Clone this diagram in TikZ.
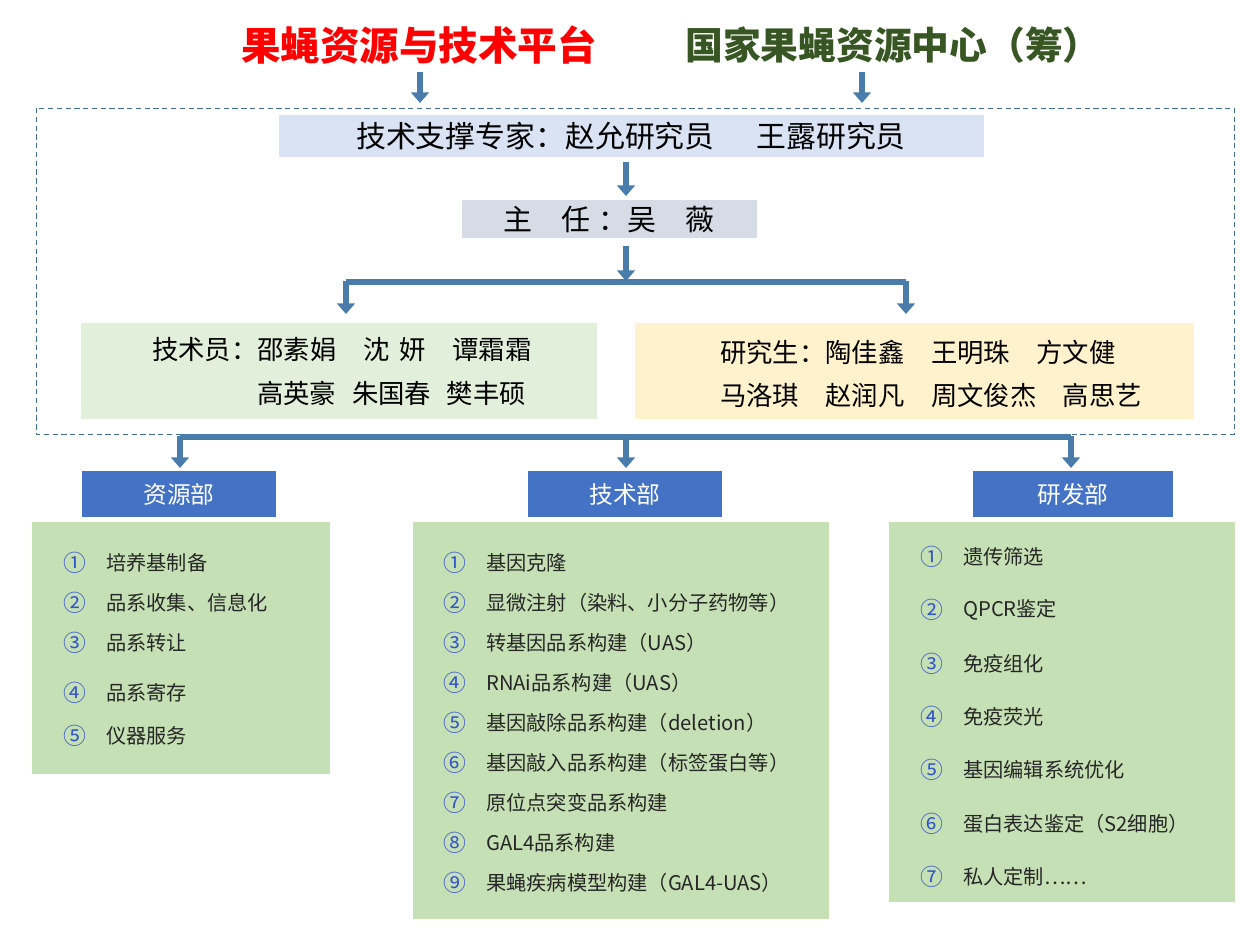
\documentclass[tikz,border=0pt]{standalone}
\usepackage{fontspec}
\setmainfont{Noto Sans CJK SC}
\usetikzlibrary{arrows.meta}
\definecolor{arr}{HTML}{5B9BD5}
\definecolor{hdr}{HTML}{4472C4}
\definecolor{lst}{HTML}{C5E0B4}
\definecolor{num}{HTML}{3355CC}
\definecolor{ttgreen}{HTML}{375623}
\definecolor{expf}{HTML}{DAE3F3}
\definecolor{dirf}{HTML}{D6DCE5}
\definecolor{stf}{HTML}{E2EFDA}
\definecolor{stuf}{HTML}{FFF2CC}
\begin{document}
\begin{tikzpicture}[x=0.02cm,y=-0.02cm,
  ar/.style={draw=arr!80!black,line width=3pt,-{Triangle[length=6pt,width=10pt]}},
  bus/.style={draw=arr!80!black,line width=3pt},
  it/.style={anchor=west,font=\fontsize{11.5}{12}\selectfont,text=black!85},
  nm/.style={anchor=center,font=\fontsize{13}{13}\selectfont,text=num},
  hd/.style={fill=hdr,text=white,font=\fontsize{13.5}{14}\selectfont,inner sep=0,align=center,minimum height=0.92cm}]
\useasboundingbox (0,0) rectangle (1260,945);
\node[font=\fontsize{22.5}{24}\selectfont\bfseries,text=red] (t1) at (419,45) {果蝇资源与技术平台};
\node[font=\fontsize{21.5}{24}\selectfont\bfseries,text=ttgreen] (t2) at (893,45) {国家果蝇资源中心（筹）};
\draw[densely dashed,draw=arr!70!black,thin] (36,108) rectangle (1234,434);
\draw[ar] (420,72) -- (420,103);
\draw[ar] (862,72) -- (862,103);
\fill[expf] (279,115) rectangle (984,157);
\node[font=\fontsize{17}{18}\selectfont] (exp) at (631,136) {技术支撑专家：赵允研究员\hspace{1.4em}王露研究员};
\fill[dirf] (462,200) rectangle (757,238);
\node[font=\fontsize{16.5}{17}\selectfont] (dir) at (609,220) {主\hspace{1em}任\hspace{0.3em}：吴\hspace{1em}薇};
\draw[ar] (626,162) -- (626,196);
\draw[ar] (626,246) -- (626,281);
\draw[bus] (346,282) -- (906,282);
\draw[ar] (346,281) -- (346,314);
\draw[ar] (906,281) -- (906,314);
\fill[stf] (81,323) rectangle (597,419);
\fill[stuf] (635,323) rectangle (1194,419);
\node[anchor=west,font=\fontsize{15}{15}\selectfont] (g1) at (146,350) {技术员：邵素娟\hspace{1em}沈\hspace{0.4em}妍\hspace{1em}谭霜霜};
\node[anchor=west,font=\fontsize{15}{15}\selectfont] (g2) at (251,393) {高英豪\hspace{0.6em}朱国春\hspace{0.6em}樊丰硕};
\node[anchor=west,font=\fontsize{15}{15}\selectfont] (y1) at (714,352) {研究生：陶佳鑫\hspace{1em}王明珠\hspace{1em}方文健};
\node[anchor=west,font=\fontsize{15}{15}\selectfont] (y2) at (714,395) {马洛琪\hspace{1em}赵润凡\hspace{1em}周文俊杰\hspace{1em}高思艺};
\draw[bus] (180,437) -- (1071,437);
\draw[ar] (626,434) -- (626,468);
\draw[ar] (180,436) -- (180,468);
\draw[ar] (1071,436) -- (1071,468);
\node[hd,text width=3.88cm] (d1) at (179,494) {资源部};
\node[hd,text width=3.88cm] (d2) at (625,494) {技术部};
\node[hd,text width=4cm] (d3) at (1073,494) {研发部};
\fill[lst] (32,522) rectangle (330,774);
\fill[lst] (413,522) rectangle (829,919);
\fill[lst] (889,522) rectangle (1235,902);
\foreach \n/\t/\y in {①/培养基制备/563,②/品系收集、信息化/603,③/品系转让/643,④/品系寄存/693,⑤/仪器服务/736}
  {\node[nm] at (75,\y) {\n}; \node[it] at (100,\y) {\t};}
\foreach \n/\t/\y in {①/基因克隆/563,②/显微注射（染料、小分子药物等）/603,③/转基因品系构建（UAS）/643,④/RNAi品系构建（UAS）/683,⑤/基因敲除品系构建（deletion）/723,⑥/基因敲入品系构建（标签蛋白等）/763,⑦/原位点突变品系构建/803,⑧/GAL4品系构建/843,⑨/果蝇疾病模型构建（GAL4-UAS）/883}
  {\node[nm] at (455,\y) {\n}; \node[it] at (480,\y) {\t};}
\foreach \n/\t/\y in {①/遗传筛选/557,②/QPCR鉴定/610,③/免疫组化/664,④/免疫荧光/717,⑤/基因编辑系统优化/770,⑥/蛋白表达鉴定（S2细胞）/824,⑦/私人定制……/877}
  {\node[nm] at (932,\y) {\n}; \node[it] at (957,\y) {\t};}
\end{tikzpicture}
\end{document}
